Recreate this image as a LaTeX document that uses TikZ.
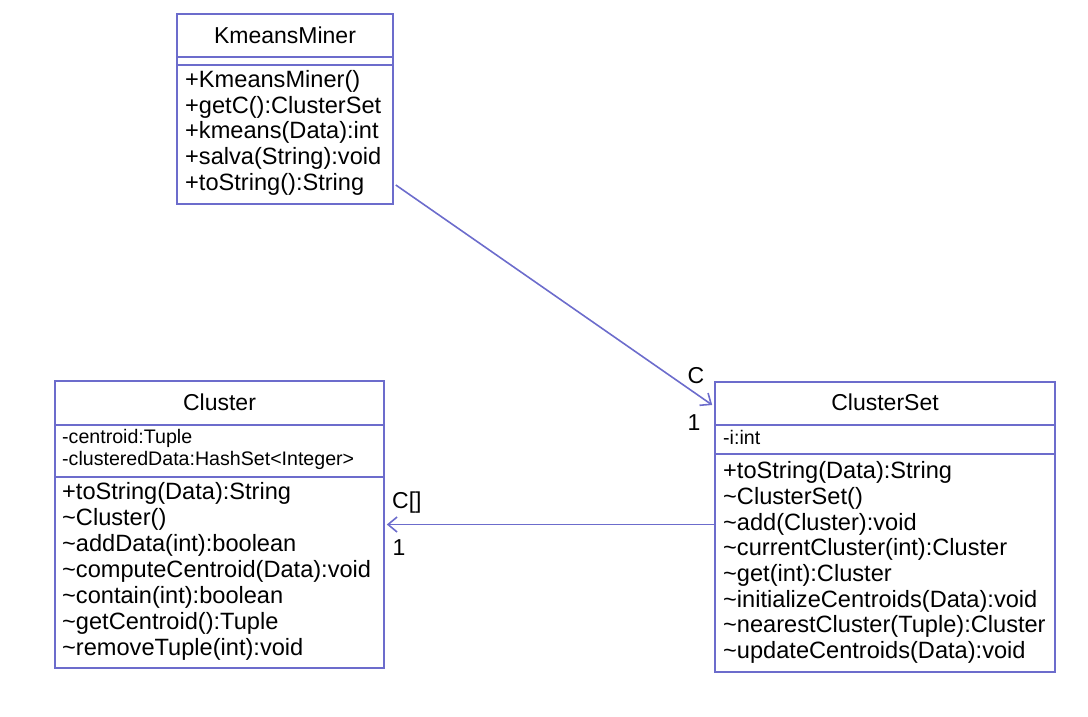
\documentclass[tikz,border=0pt]{standalone}
\usepackage{fontspec}
\setmainfont{Liberation Sans}
\usetikzlibrary{positioning,calc,arrows.meta}
\definecolor{umlblue}{RGB}{108,108,204}
\newcommand{\tld}{\textasciitilde}

\begin{document}
\begin{tikzpicture}[x=1pt,y=-1pt,
    umlbox/.style={draw=umlblue, line width=1.6pt, fill=white, inner sep=0pt},
    title/.style={font=\fontsize{23}{26}\selectfont, inner sep=0pt},
    member/.style={anchor=west, font=\fontsize{23.6}{26}\selectfont, inner sep=0pt, text height=0.72em, text depth=0.2em},
    field/.style={anchor=west, font=\fontsize{19.6}{22}\selectfont, inner sep=0pt, text height=0.72em, text depth=0.2em},
    assoc/.style={draw=umlblue, line width=1.6pt, -{Straight Barb[length=9pt,width=15pt,line width=1.6pt]}},
    mult/.style={font=\fontsize{23}{26}\selectfont, inner sep=0pt}]
    \useasboundingbox (0,0) rectangle (1088,716);

    % Classes
    \node[umlbox, minimum width=216pt, minimum height=190pt] (miner) at (285,109) {};
    \node[umlbox, minimum width=329pt, minimum height=287pt] (cluster) at (219.5,524.5) {};
    \node[umlbox, minimum width=340pt, minimum height=290pt] (set) at (885,527) {};

    % KmeansMiner
    \node[title] (miner-t) at (285,35) {KmeansMiner};
    \draw[umlblue, line width=1.6pt] (miner.west |- 0,57) -- (miner.east |- 0,57);
    \draw[umlblue, line width=1.6pt] (miner.west |- 0,65) -- (miner.east |- 0,65);
    \foreach \t [count=\i from 0] in {+KmeansMiner(), +getC():ClusterSet, +kmeans(Data):int, +salva(String):void, +toString():String}
        \node[member] (miner-m\i) at (185,{85+25.6*\i}) {\t};

    % Cluster
    \node[title] (cluster-t) at (219.5,402) {Cluster};
    \draw[umlblue, line width=1.6pt] (cluster.west |- 0,425) -- (cluster.east |- 0,425);
    \draw[umlblue, line width=1.6pt] (cluster.west |- 0,477) -- (cluster.east |- 0,477);
    \node[field] (cluster-a0) at (62,441) {-centroid:Tuple};
    \node[field] (cluster-a1) at (62,463) {-clusteredData:HashSet<Integer>};
    \foreach \t [count=\i from 0] in {+toString(Data):String, \tld Cluster(), \tld addData(int):boolean, \tld computeCentroid(Data):void, \tld contain(int):boolean, \tld getCentroid():Tuple, \tld removeTuple(int):void}
        \node[member] (cluster-m\i) at (62,{497+26*\i}) {\t};

    % ClusterSet
    \node[title] (set-t) at (885,402) {ClusterSet};
    \draw[umlblue, line width=1.6pt] (set.west |- 0,425) -- (set.east |- 0,425);
    \draw[umlblue, line width=1.6pt] (set.west |- 0,454) -- (set.east |- 0,454);
    \node[field] (set-a0) at (723,442) {-i:int};
    \foreach \t [count=\i from 0] in {+toString(Data):String, \tld ClusterSet(), \tld add(Cluster):void, \tld currentCluster(int):Cluster, \tld get(int):Cluster, \tld initializeCentroids(Data):void, \tld nearestCluster(Tuple):Cluster, \tld updateCentroids(Data):void}
        \node[member] (set-m\i) at (723,{476+25.7*\i}) {\t};

    % Associations
    \draw[assoc] ([xshift=2pt,yshift=-76pt]miner.east) -- ([xshift=-2pt,yshift=122pt]set.west);
    \draw[assoc] (set.west |- cluster.east) -- ([xshift=2pt]cluster.east);

    % Roles and multiplicities
    \node[mult] (c-role) at (696,376) {C};
    \node[mult] (c-mult) at (694,423) {1};
    \node[mult, anchor=west] (cs-role) at (392,503) {C[]};
    \node[mult] (cs-mult) at (399,548) {1};
\end{tikzpicture}
\end{document}
